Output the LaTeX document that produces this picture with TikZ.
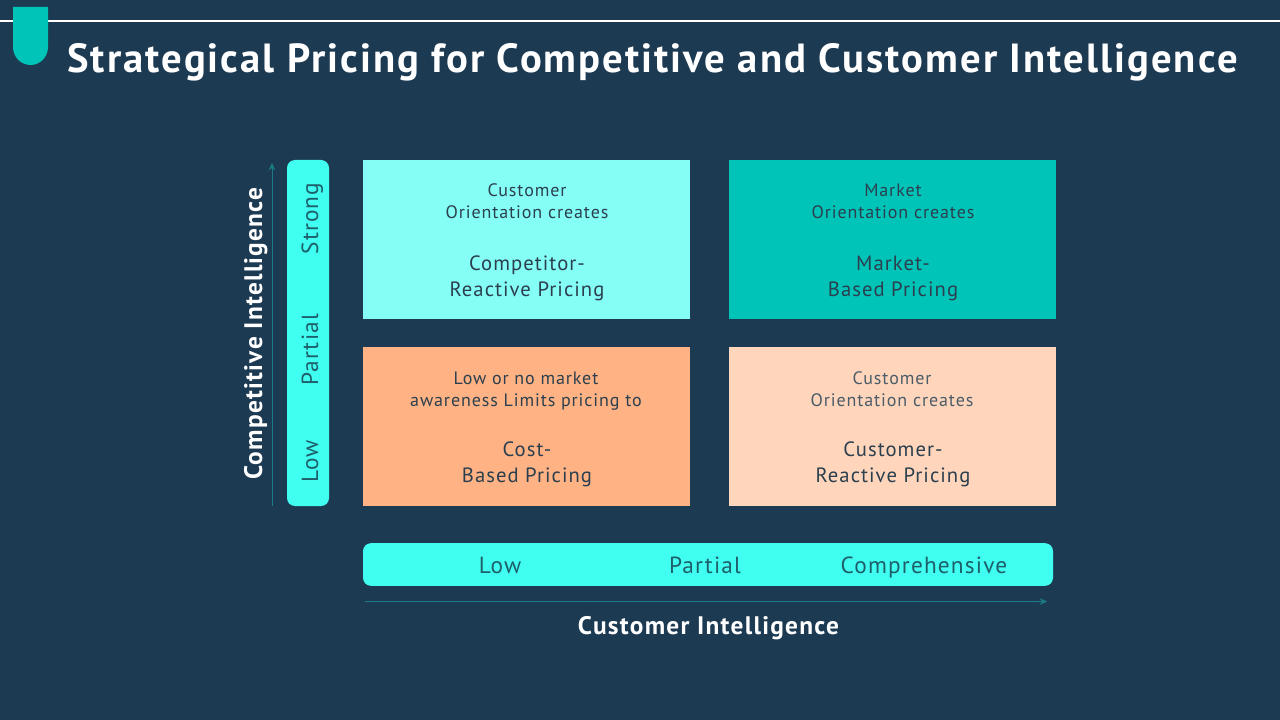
\documentclass[tikz,border=0pt]{standalone}
\usepackage{xcolor}
\usepackage{fontspec}
\setmainfont[LetterSpace=5]{PT Sans}
\newfontfamily\headfont[LetterSpace=5]{PT Sans Bold}
\usepackage{tikz}
\usetikzlibrary{arrows.meta}
\definecolor{bgnavy}{HTML}{1D3A53}
\definecolor{tabteal}{HTML}{00C4B8}
\definecolor{barcyan}{HTML}{40FFF0}
\definecolor{axisteal}{HTML}{1B7C85}
\definecolor{boxcyan}{HTML}{85FFF6}
\definecolor{boxorange}{HTML}{FFB384}
\definecolor{boxpeach}{HTML}{FFD6BC}
\definecolor{inktext}{HTML}{2B3F4E}
\definecolor{scaleink}{HTML}{1D5F6A}
\tikzstyle{quadbox}=[draw=none, shape=rectangle, minimum width=245.25pt, minimum height=119.25pt, inner sep=0pt]
\tikzstyle{smalltext}=[text=inktext, font=\fontsize{13.5}{16.5}\selectfont, align=center, inner sep=0pt]
\tikzstyle{bigtext}=[text=inktext, font=\fontsize{15.5}{19.5}\selectfont, align=center, inner sep=0pt]
\tikzstyle{scaletext}=[text=scaleink, font=\fontsize{17.5}{20}\selectfont, inner sep=0pt, anchor=base]
\tikzstyle{axistext}=[text=white, font=\headfont\fontsize{19}{22}\selectfont, inner sep=0pt, anchor=base]
\tikzstyle{axisline}=[-{Stealth[length=5.5pt, width=5pt]}, line width=0.6pt, color=axisteal]
\begin{document}
\begin{tikzpicture}[x=0.75pt, y=-0.75pt]
\useasboundingbox (0,0) rectangle (1280,720);
\fill[bgnavy] (0,0) rectangle (1280,720);

% header
\draw[white, line width=0.9pt] (0,21) -- (1280,21);
\fill[tabteal] (13,7) -- (48,7) -- (48,47) arc[start angle=0, end angle=-180, x radius=17.5, y radius=-18] -- cycle;
\node [text=white, inner sep=0pt, anchor=base, font=\headfont\fontsize{30.5}{34}\selectfont] (title) at (652.5,73) {Strategical Pricing for Competitive and Customer Intelligence};

% quadrants
\node [quadbox, fill=boxcyan] (compbox) at (526.5,239.5) {};
\node [quadbox, fill=tabteal] (markbox) at (892.5,239.5) {};
\node [quadbox, fill=boxorange] (costbox) at (526.5,426.5) {};
\node [quadbox, fill=boxpeach] (custbox) at (892.5,426.5) {};

\node [smalltext] (compsub) at (527,201.5) {Customer\\Orientation creates};
\node [bigtext] (comphead) at (527,278) {Competitor-\\Reactive Pricing};
\node [smalltext] (marksub) at (893,201.5) {Market\\Orientation creates};
\node [bigtext] (markhead) at (893,278) {Market-\\Based Pricing};
\node [smalltext] (costsub) at (526,391.5) {Low or no market\\awareness Limits pricing to};
\node [bigtext] (costhead) at (527,464) {Cost-\\Based Pricing};
\node [smalltext, text=inktext!85!white] (custsub) at (892,389.5) {Customer\\Orientation creates};
\node [bigtext] (custhead) at (893,464) {Customer-\\Reactive Pricing};

% scale bars
\node [fill=barcyan, rounded corners=6pt, minimum width=31.5pt, minimum height=259.5pt, inner sep=0pt] (vbar) at (308,333) {};
\node [fill=barcyan, rounded corners=6pt, minimum width=517.5pt, minimum height=32pt, inner sep=0pt] (hbar) at (708,564.5) {};
\node [scaletext, rotate=90] (vstrong) at (318,218.5) {Strong};
\node [scaletext, rotate=90] (vpartial) at (318,350) {Partial};
\node [scaletext, rotate=90] (vlow) at (318,461.5) {Low};
\node [scaletext] (hlow) at (500,573) {Low};
\node [scaletext] (hpartial) at (705,573) {Partial};
\node [scaletext] (hcomp) at (924,573) {Comprehensive};

% axes
\coordinate (vstart) at (272,506);
\coordinate (vend) at (272,163);
\coordinate (hstart) at (365,601.5);
\coordinate (hend) at (1047,601.5);
\draw[axisline] (vstart) -- (vend);
\draw[axisline] (hstart) -- (hend);
\node [axistext, rotate=90] (vtitle) at (262,333.5) {Competitive Intelligence};
\node [axistext] (htitle) at (708.5,634) {Customer Intelligence};
\end{tikzpicture}
\end{document}
